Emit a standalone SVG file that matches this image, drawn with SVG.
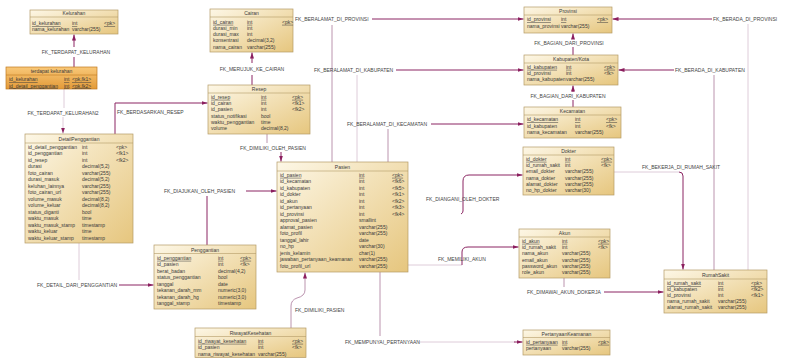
<svg xmlns="http://www.w3.org/2000/svg" width="785" height="358" viewBox="0 0 785 358">
<defs>
<linearGradient id="g" x1="0" y1="0" x2="1" y2="1"><stop offset="0" stop-color="#fdf7e6"/><stop offset="1" stop-color="#e6c67e"/></linearGradient>
<linearGradient id="go" x1="0" y1="0" x2="0" y2="1"><stop offset="0" stop-color="#f9c878"/><stop offset="1" stop-color="#e39a38"/></linearGradient>
<marker id="a" viewBox="0 0 6 4" refX="6" refY="2" markerWidth="6" markerHeight="4" markerUnits="userSpaceOnUse" orient="auto"><path d="M0 0L6 2L0 4z" fill="#8b1e5e"/></marker>
<style>
.b{fill:url(#g);stroke:#b49a66;stroke-width:0.7}
.o{fill:url(#go);stroke:#c07a20;stroke-width:0.7}
.s{stroke:#b49a66;stroke-width:0.6}
text{font-family:"Liberation Sans",Arial,sans-serif;font-size:5px;fill:#3a3a3a}
.h{text-anchor:middle}
.u{text-decoration:underline}
.l{font-size:5px;fill:#444}
.d{fill:none;stroke:#8b2562;stroke-width:1}
.m{fill:none;stroke:#a9789a;stroke-width:0.8}
.f{fill:none;stroke:#d6bfcf;stroke-width:0.8}
.ar{marker-end:url(#a)}
</style>
</defs>

<g id="connectors">
<path class="d ar" d="M74 67V57M74 47V34.5"/>
<text class="l h" x="76" y="53.8">FK_TERDAPAT_KELURAHAN</text>
<path class="f" d="M64 89V108"/><path class="f ar" d="M63 117V133.5"/>
<text class="l h" x="63" y="114.8">FK_TERDAPAT_KELURAHAN2</text>
<path class="d ar" d="M115 134V103H207.5"/>
<text class="l" x="117" y="113.8">FK_BERDASARKAN_RESEP</text>
<path class="d" d="M252 85V75"/><path class="d ar" d="M252 63V52.5"/>
<text class="l h" x="252" y="70.8">FK_MERUJUK_KE_CAIRAN</text>
<path class="m" d="M267 134V143"/><path class="d ar" d="M281 152V161.5"/>
<text class="l h" x="273" y="149.8">FK_DIMILIKI_OLEH_PASIEN</text>
<path class="m" d="M332 162V25"/><path class="d ar" d="M372 19H523.5"/>
<text class="l" x="295" y="20.8">FK_BERALAMAT_DI_PROVINSI</text>
<path class="f" d="M357 162V75"/><path class="d ar" d="M396 70H523.5"/>
<text class="l" x="314" y="71.8">FK_BERALAMAT_DI_KABUPATEN</text>
<path class="m" d="M388 162V129"/><path class="d ar" d="M431 124H523.5"/>
<text class="l" x="347" y="125.8">FK_BERALAMAT_DI_KECAMATAN</text>
<path class="d" d="M573 55V47"/><path class="d ar" d="M573 39V33.5"/>
<text class="l h" x="569" y="44.8">FK_BAGIAN_DARI_PROVINSI</text>
<path class="d" d="M573 107V100"/><path class="d ar" d="M573 92V85.5"/>
<text class="l h" x="568" y="97.8">FK_BAGIAN_DARI_KABUPATEN</text>
<path class="f" d="M748 270V24"/><path class="d ar" d="M712 19H612.5"/>
<text class="l" x="713" y="20.8">FK_BERADA_DI_PROVINSI</text>
<path class="m" d="M714 270V75"/><path class="d ar" d="M674 70H618.5"/>
<text class="l" x="675" y="71.8">FK_BERADA_DI_KABUPATEN</text>
<path class="f" d="M614 172H679"/><path class="d ar" d="M679 172Q683 172 683 176V269.5"/>
<text class="l" x="642" y="168.8">FK_BEKERJA_DI_RUMAH_SAKIT</text>
<path class="d ar" d="M461 214Q463 213 463 211V181Q463 175 469 175H522.5"/>
<text class="l" x="426" y="200.8">FK_DIANGANI_OLEH_DOKTER</text>
<path class="f" d="M408 265H462"/><path class="d ar" d="M462 265V252Q462 247 468 247H518.5"/>
<text class="l" x="438" y="260.8">FK_MEMILIKI_AKUN</text>
<path class="m" d="M564 278V287"/><path class="d ar" d="M604 292H663.5"/>
<text class="l" x="527" y="293.8">FK_DIMAWAI_AKUN_DOKERJA</text>
<path class="m" d="M380 272V336"/><path class="f" d="M418 342H515"/><path class="d ar" d="M514 342H522.5"/>
<text class="l" x="345" y="343.8">FK_MEMPUNYAI_PERTANYAAN</text>
<path class="m ar" d="M291 328V306Q291 300 297 298Q305 296 305 290V272.5"/>
<text class="l" x="295" y="311.8">FK_DIMILIKI_PASIEN</text>
<path class="f" d="M79 243V280"/><path class="d ar" d="M119 285H153.5"/>
<text class="l" x="37" y="286.8">FK_DETAIL_DARI_PENGGANTIAN</text>
<path class="d" d="M207 245V196"/><path class="d ar" d="M246 191H276.5"/>
<text class="l" x="164" y="192.8">FK_DIAJUKAN_OLEH_PASIEN</text>
</g>

<g id="Kelurahan">
<rect class="b" x="30" y="10" width="88" height="24"/><line class="s" x1="30" y1="17" x2="118" y2="17"/>
<text class="h" x="74" y="15.3">Kelurahan</text>
<text class="u" x="32" y="25.1">id_kelurahan</text><text class="u" x="72" y="25.1">int</text><text class="u" x="104" y="25.1">&lt;pk&gt;</text>
<text x="32" y="31.1">nama_kelurahan</text><text x="72" y="31.1">varchar(255)</text>
</g>

<g id="terdapat_kelurahan">
<rect class="o" x="6" y="67" width="91" height="22"/><line x1="6" y1="75" x2="97" y2="75" stroke="#c07a20" stroke-width="0.6"/>
<text class="h" x="51.5" y="73.3">terdapat kelurahan</text>
<text class="u" x="9" y="81.1">id_kelurahan</text><text class="u" x="64" y="81.1">int</text><text class="u" x="72" y="81.1">&lt;pk,fk1&gt;</text>
<text class="u" x="9" y="87.5">id_detail_penggantian</text><text class="u" x="64" y="87.5">int</text><text class="u" x="72" y="87.5">&lt;pk,fk2&gt;</text>
</g>

<g id="DetailPenggantian">
<rect class="b" x="25" y="134" width="108" height="109"/><line class="s" x1="25" y1="143" x2="133" y2="143"/>
<text class="h" x="79" y="140.8">DetailPenggantian</text>
<text x="28" y="148.8">id_detail_penggantian</text><text x="82" y="148.8">int</text><text x="116" y="148.8">&lt;pk&gt;</text>
<text x="28" y="155.3">id_penggantian</text><text x="82" y="155.3">int</text><text x="116" y="155.3">&lt;fk1&gt;</text>
<text x="28" y="161.8">id_resep</text><text x="82" y="161.8">int</text><text x="116" y="161.8">&lt;fk2&gt;</text>
<text x="28" y="168.3">durasi</text><text x="82" y="168.3">decimal(5,2)</text>
<text x="28" y="174.8">foto_cairan</text><text x="82" y="174.8">varchar(255)</text>
<text x="28" y="181.3">durasi_masuk</text><text x="82" y="181.3">decimal(5,2)</text>
<text x="28" y="187.8">keluhan_lainnya</text><text x="82" y="187.8">varchar(255)</text>
<text x="28" y="194.3">foto_cairan_url</text><text x="82" y="194.3">varchar(255)</text>
<text x="28" y="200.8">volume_masuk</text><text x="82" y="200.8">decimal(8,2)</text>
<text x="28" y="207.3">volume_keluar</text><text x="82" y="207.3">decimal(8,2)</text>
<text x="28" y="213.8">status_diganti</text><text x="82" y="213.8">bool</text>
<text x="28" y="220.3">waktu_masuk</text><text x="82" y="220.3">time</text>
<text x="28" y="226.8">waktu_masuk_stamp</text><text x="82" y="226.8">timestamp</text>
<text x="28" y="233.3">waktu_keluar</text><text x="82" y="233.3">time</text>
<text x="28" y="239.8">waktu_keluar_stamp</text><text x="82" y="239.8">timestamp</text>
</g>

<g id="Cairan">
<rect class="b" x="210" y="9" width="83" height="43"/><line class="s" x1="210" y1="17" x2="293" y2="17"/>
<text class="h" x="251.5" y="15.3">Cairan</text>
<text class="u" x="213" y="23.8">id_cairan</text><text class="u" x="247" y="23.8">int</text><text class="u" x="282" y="23.8">&lt;pk&gt;</text>
<text x="213" y="30">durasi_min</text><text x="247" y="30">int</text>
<text x="213" y="36.2">durasi_max</text><text x="247" y="36.2">int</text>
<text x="213" y="42.4">konsentrasi</text><text x="247" y="42.4">decimal(3,2)</text>
<text x="213" y="48.6">nama_cairan</text><text x="247" y="48.6">varchar(255)</text>
</g>

<g id="Resep">
<rect class="b" x="208" y="85" width="102" height="49"/><line class="s" x1="208" y1="93" x2="310" y2="93"/>
<text class="h" x="259" y="91.3">Resep</text>
<text class="u" x="211" y="98.8">id_resep</text><text class="u" x="261" y="98.8">int</text><text class="u" x="292" y="98.8">&lt;pk&gt;</text>
<text x="211" y="105.1">id_cairan</text><text x="261" y="105.1">int</text><text x="292" y="105.1">&lt;fk1&gt;</text>
<text x="211" y="111.4">id_pasien</text><text x="261" y="111.4">int</text><text x="292" y="111.4">&lt;fk2&gt;</text>
<text x="211" y="117.7">status_notifikasi</text><text x="261" y="117.7">bool</text>
<text x="211" y="124">waktu_penggantian</text><text x="261" y="124">time</text>
<text x="211" y="130.3">volume</text><text x="261" y="130.3">decimal(8,2)</text>
</g>

<g id="Pasien">
<rect class="b" x="277" y="162" width="131" height="110"/><line class="s" x1="277" y1="171" x2="408" y2="171"/>
<text class="h" x="342.5" y="168.8">Pasien</text>
<text class="u" x="280" y="176.8">id_pasien</text><text class="u" x="359" y="176.8">int</text><text class="u" x="392" y="176.8">&lt;pk&gt;</text>
<text x="280" y="183.3">id_kecamatan</text><text x="359" y="183.3">int</text><text x="392" y="183.3">&lt;fk6&gt;</text>
<text x="280" y="189.8">id_kabupaten</text><text x="359" y="189.8">int</text><text x="392" y="189.8">&lt;fk5&gt;</text>
<text x="280" y="196.3">id_dokter</text><text x="359" y="196.3">int</text><text x="392" y="196.3">&lt;fk1&gt;</text>
<text x="280" y="202.8">id_akun</text><text x="359" y="202.8">int</text><text x="392" y="202.8">&lt;fk2&gt;</text>
<text x="280" y="209.3">id_pertanyaan</text><text x="359" y="209.3">int</text><text x="392" y="209.3">&lt;fk3&gt;</text>
<text x="280" y="215.8">id_provinsi</text><text x="359" y="215.8">int</text><text x="392" y="215.8">&lt;fk4&gt;</text>
<text x="280" y="222.3">approval_pasien</text><text x="359" y="222.3">smallint</text>
<text x="280" y="228.8">alamat_pasien</text><text x="359" y="228.8">varchar(255)</text>
<text x="280" y="235.3">foto_profil</text><text x="359" y="235.3">varchar(255)</text>
<text x="280" y="241.8">tanggal_lahir</text><text x="359" y="241.8">date</text>
<text x="280" y="248.3">no_hp</text><text x="359" y="248.3">varchar(30)</text>
<text x="280" y="254.8">jenis_kelamin</text><text x="359" y="254.8">char(1)</text>
<text x="280" y="261.3">jawaban_pertanyaan_keamanan</text><text x="359" y="261.3">varchar(255)</text>
<text x="280" y="267.8">foto_profil_url</text><text x="359" y="267.8">varchar(255)</text>
</g>

<g id="Provinsi">
<rect class="b" x="524" y="7" width="88" height="26"/><line class="s" x1="524" y1="15" x2="612" y2="15"/>
<text class="h" x="568" y="13.3">Provinsi</text>
<text class="u" x="527" y="21.3">id_provinsi</text><text class="u" x="561" y="21.3">int</text><text class="u" x="597" y="21.3">&lt;pk&gt;</text>
<text x="527" y="27.8">nama_provinsi</text><text x="561" y="27.8">varchar(255)</text>
</g>

<g id="KabupatenKota">
<rect class="b" x="524" y="55" width="94" height="30"/><line class="s" x1="524" y1="63" x2="618" y2="63"/>
<text class="h" x="571" y="61.3">Kabupaten/Kota</text>
<text class="u" x="527" y="68.8">id_kabupaten</text><text class="u" x="566" y="68.8">int</text><text class="u" x="604" y="68.8">&lt;pk&gt;</text>
<text x="527" y="75.1">id_provinsi</text><text x="566" y="75.1">int</text><text x="604" y="75.1">&lt;fk&gt;</text>
<text x="527" y="81.4">nama_kabupaten</text><text x="566" y="81.4">varchar(255)</text>
</g>

<g id="Kecamatan">
<rect class="b" x="524" y="107" width="97" height="31"/><line class="s" x1="524" y1="115" x2="621" y2="115"/>
<text class="h" x="572.5" y="113.3">Kecamatan</text>
<text class="u" x="527" y="121.3">id_kecamatan</text><text class="u" x="575" y="121.3">int</text><text class="u" x="606" y="121.3">&lt;pk&gt;</text>
<text x="527" y="127.8">id_kabupaten</text><text x="575" y="127.8">int</text><text x="606" y="127.8">&lt;fk&gt;</text>
<text x="527" y="134.3">nama_kecamatan</text><text x="575" y="134.3">varchar(255)</text>
</g>

<g id="Dokter">
<rect class="b" x="523" y="147" width="91" height="48"/><line class="s" x1="523" y1="155" x2="614" y2="155"/>
<text class="h" x="568.5" y="153.3">Dokter</text>
<text class="u" x="526" y="160.8">id_dokter</text><text class="u" x="565" y="160.8">int</text><text class="u" x="601" y="160.8">&lt;pk&gt;</text>
<text x="526" y="167.1">id_rumah_sakit</text><text x="565" y="167.1">int</text><text x="601" y="167.1">&lt;fk&gt;</text>
<text x="526" y="173.4">email_dokter</text><text x="565" y="173.4">varchar(255)</text>
<text x="526" y="179.7">nama_dokter</text><text x="565" y="179.7">varchar(255)</text>
<text x="526" y="186">alamat_dokter</text><text x="565" y="186">varchar(255)</text>
<text x="526" y="192.3">no_hp_dokter</text><text x="565" y="192.3">varchar(30)</text>
</g>

<g id="Akun">
<rect class="b" x="519" y="229" width="91" height="49"/><line class="s" x1="519" y1="237" x2="610" y2="237"/>
<text class="h" x="564.5" y="235.3">Akun</text>
<text class="u" x="522" y="242.8">id_akun</text><text class="u" x="562" y="242.8">int</text><text class="u" x="598" y="242.8">&lt;pk&gt;</text>
<text x="522" y="249.1">id_rumah_sakit</text><text x="562" y="249.1">int</text><text x="598" y="249.1">&lt;fk&gt;</text>
<text x="522" y="255.4">nama_akun</text><text x="562" y="255.4">varchar(255)</text>
<text x="522" y="261.7">email_akun</text><text x="562" y="261.7">varchar(255)</text>
<text x="522" y="268">password_akun</text><text x="562" y="268">varchar(255)</text>
<text x="522" y="274.3">role_akun</text><text x="562" y="274.3">varchar(255)</text>
</g>

<g id="RumahSakit">
<rect class="b" x="664" y="270" width="103" height="43"/><line class="s" x1="664" y1="279" x2="767" y2="279"/>
<text class="h" x="715.5" y="276.8">RumahSakit</text>
<text class="u" x="667" y="285.3">id_rumah_sakit</text><text class="u" x="718" y="285.3">int</text><text class="u" x="751" y="285.3">&lt;pk&gt;</text>
<text x="667" y="291.3">id_kabupaten</text><text x="718" y="291.3">int</text><text x="751" y="291.3">&lt;fk2&gt;</text>
<text x="667" y="297.3">id_provinsi</text><text x="718" y="297.3">int</text><text x="751" y="297.3">&lt;fk1&gt;</text>
<text x="667" y="303.3">nama_rumah_sakit</text><text x="718" y="303.3">varchar(255)</text>
<text x="667" y="309.3">alamat_rumah_sakit</text><text x="718" y="309.3">varchar(255)</text>
</g>

<g id="PertanyaanKeamanan">
<rect class="b" x="523" y="330" width="87" height="25"/><line class="s" x1="523" y1="337.5" x2="610" y2="337.5"/>
<text class="h" x="566.5" y="335.8">PertanyaanKeamanan</text>
<text class="u" x="526" y="343.8">id_pertanyaan</text><text class="u" x="562" y="343.8">int</text><text class="u" x="598" y="343.8">&lt;pk&gt;</text>
<text x="526" y="350.3">pertanyaan</text><text x="562" y="350.3">varchar(255)</text>
</g>

<g id="RiwayatKesehatan">
<rect class="b" x="195" y="328" width="111" height="29.5"/><line class="s" x1="195" y1="336.5" x2="306" y2="336.5"/>
<text class="h" x="250.5" y="334.8">RiwayatKesehatan</text>
<text class="u" x="198" y="342.8">id_riwayat_kesehatan</text><text class="u" x="258" y="342.8">int</text><text class="u" x="292" y="342.8">&lt;pk&gt;</text>
<text x="198" y="349.3">id_pasien</text><text x="258" y="349.3">int</text><text x="292" y="349.3">&lt;fk&gt;</text>
<text x="198" y="355.8">nama_riwayat_kesehatan</text><text x="258" y="355.8">varchar(255)</text>
</g>

<g id="Penggantian">
<rect class="b" x="154" y="245" width="102" height="64"/><line class="s" x1="154" y1="253.5" x2="256" y2="253.5"/>
<text class="h" x="205" y="251.8">Penggantian</text>
<text class="u" x="157" y="259.8">id_penggantian</text><text class="u" x="218" y="259.8">int</text><text class="u" x="240" y="259.8">&lt;pk&gt;</text>
<text x="157" y="266.3">id_pasien</text><text x="218" y="266.3">int</text><text x="240" y="266.3">&lt;fk&gt;</text>
<text x="157" y="272.8">berat_badan</text><text x="218" y="272.8">decimal(4,2)</text>
<text x="157" y="279.3">status_penggantian</text><text x="218" y="279.3">bool</text>
<text x="157" y="285.8">tanggal</text><text x="218" y="285.8">date</text>
<text x="157" y="292.3">tekanan_darah_mm</text><text x="218" y="292.3">numeric(3,0)</text>
<text x="157" y="298.8">tekanan_darah_hg</text><text x="218" y="298.8">numeric(3,0)</text>
<text x="157" y="305.3">tanggal_stamp</text><text x="218" y="305.3">timestamp</text>
</g>
</svg>
